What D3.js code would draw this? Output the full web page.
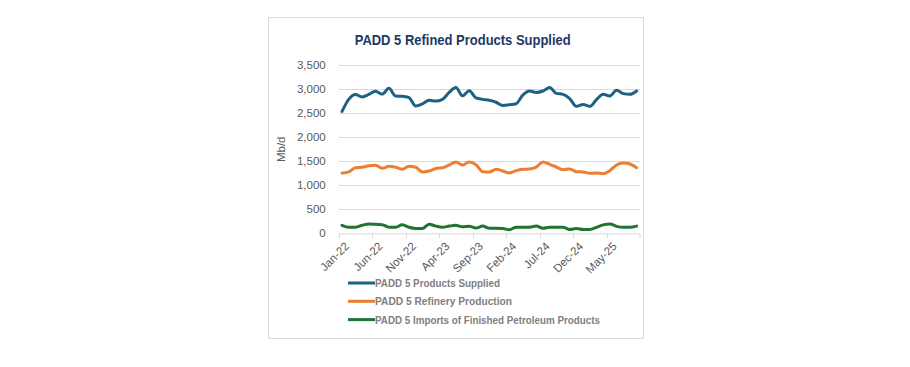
<!DOCTYPE html>
<html>
<head>
<meta charset="utf-8">
<script src="https://cdn.jsdelivr.net/npm/d3@7"></script>
<style>
  body { margin: 0; background: #fff; }
  text { font-family: "Liberation Sans", Arial, sans-serif; }
</style>
</head>
<body>
<script>
var months = ['Jan','Feb','Mar','Apr','May','Jun','Jul','Aug','Sep','Oct','Nov','Dec'];
var categories = [];
for (var yr = 22; yr <= 25; yr++) {
  months.forEach(function(m, k){ if (yr < 25 || k < 9) categories.push(m + '-' + yr); });
}

var supplied = [2540,2790,2890,2840,2895,2960,2900,3020,2860,2855,2825,2650,2695,2770,2755,2790,2935,3035,2865,2970,2820,2790,2770,2730,2665,2680,2700,2880,2965,2935,2965,3035,2915,2895,2805,2645,2685,2645,2785,2895,2860,2980,2910,2895,2965];
var refinery = [1255,1280,1367,1375,1408,1417,1354,1396,1375,1333,1396,1375,1277,1298,1350,1367,1423,1485,1423,1485,1430,1283,1277,1333,1298,1256,1305,1333,1340,1380,1485,1437,1381,1326,1340,1283,1277,1250,1256,1242,1305,1423,1465,1444,1367];
var imports = [166,125,127,166,195,186,180,127,127,180,125,100,100,190,150,127,150,166,135,145,110,150,105,105,100,75,125,125,127,150,105,127,127,127,80,100,80,80,125,175,195,145,125,125,150];

var yTicks = [0,500,1000,1500,2000,2500,3000,3500];
var series = [
  {name: 'PADD 5 Products Supplied', values: supplied, color: '#1b6283'},
  {name: 'PADD 5 Refinery Production', values: refinery, color: '#ed7d31'},
  {name: 'PADD 5 Imports of Finished Petroleum Products', values: imports, color: '#1e7430'}
];

var svg = d3.select('body').append('svg').attr('width', 910).attr('height', 367);

// chart frame
svg.append('rect')
  .attr('x', 268.5).attr('y', 17.5).attr('width', 375).attr('height', 321)
  .attr('fill', '#fff').attr('stroke', '#d9d9d9');

var plotL = 338.7, plotR = 640, plotT = 65.3, plotB = 233.3;

var x = d3.scaleBand().domain(categories).range([plotL, plotR]);
var y = d3.scaleLinear().domain([0, 3500]).range([plotB, plotT]);

// title
svg.append('text')
  .attr('x', 462.7).attr('y', 45)
  .attr('text-anchor', 'middle')
  .attr('font-size', 15).attr('font-weight', 'bold')
  .attr('fill', '#1f3864')
  .attr('textLength', 216).attr('lengthAdjust', 'spacingAndGlyphs')
  .text('PADD 5 Refined Products Supplied');

// gridlines
svg.append('g').selectAll('line')
  .data(yTicks.slice(1))
  .enter().append('line')
  .attr('x1', plotL).attr('x2', plotR)
  .attr('y1', function(d){ return Math.round(y(d)) + 0.5; })
  .attr('y2', function(d){ return Math.round(y(d)) + 0.5; })
  .attr('stroke', '#d9d9d9').attr('stroke-width', 1);

// y axis labels
var yAxis = svg.append('g')
  .attr('transform', 'translate(' + (plotL - 10) + ',0)')
  .call(d3.axisLeft(y).tickValues(yTicks).tickSize(0).tickFormat(d3.format(',')));
yAxis.select('.domain').remove();
yAxis.selectAll('text')
  .attr('font-size', 11.5).attr('fill', '#595959')
  .attr('font-family', '"Liberation Sans", Arial, sans-serif');

svg.append('text')
  .attr('transform', 'translate(285,' + ((plotT + plotB) / 2) + ') rotate(-90)')
  .attr('text-anchor', 'middle')
  .attr('font-size', 11.5).attr('fill', '#595959')
  .text('Mb/d');

// x axis line and ticks at category boundaries
svg.append('line')
  .attr('x1', plotL).attr('x2', plotR)
  .attr('y1', plotB + 0.5).attr('y2', plotB + 0.5)
  .attr('stroke', '#d9d9d9');

var labelCats = categories.filter(function(d, i){ return i % 5 === 0; });
svg.append('g').selectAll('line')
  .data(labelCats.concat(['end']))
  .enter().append('line')
  .attr('x1', function(d){ return d === 'end' ? plotR : Math.round(x(d)) + 0.5; })
  .attr('x2', function(d){ return d === 'end' ? plotR : Math.round(x(d)) + 0.5; })
  .attr('y1', plotB).attr('y2', plotB + 5)
  .attr('stroke', '#d9d9d9');

svg.append('g').selectAll('text')
  .data(labelCats)
  .enter().append('text')
  .attr('transform', function(d){
    return 'translate(' + (x(d) + x.bandwidth() / 2 + 2) + ',' + (plotB + 8) + ') rotate(-45)';
  })
  .attr('text-anchor', 'end')
  .attr('dy', '0.7em')
  .attr('font-size', 11.5).attr('fill', '#595959')
  .text(function(d){ return d; });

// lines
var line = d3.line()
  .x(function(d, i){ return x(categories[i]) + x.bandwidth() / 2; })
  .y(function(d){ return y(d); })
  .curve(d3.curveMonotoneX);

svg.append('g').selectAll('path')
  .data(series)
  .enter().append('path')
  .attr('d', function(s){ return line(s.values); })
  .attr('fill', 'none')
  .attr('stroke', function(s){ return s.color; })
  .attr('stroke-width', 3)
  .attr('stroke-linejoin', 'round')
  .attr('stroke-linecap', 'round');

// legend
var legendW = [125, 137, 225];
var legend = svg.append('g').selectAll('g')
  .data(series)
  .enter().append('g')
  .attr('transform', function(d, i){ return 'translate(348,' + (287 + i * 18.3) + ')'; });

legend.append('line')
  .attr('x1', 0).attr('x2', 27).attr('y1', -4).attr('y2', -4)
  .attr('stroke', function(d){ return d.color; })
  .attr('stroke-width', 3);

legend.append('text')
  .attr('x', 27).attr('y', 0)
  .attr('font-size', 11.5).attr('font-weight', 'bold')
  .attr('fill', '#808080')
  .attr('textLength', function(d, i){ return legendW[i]; })
  .attr('lengthAdjust', 'spacingAndGlyphs')
  .text(function(d){ return d.name; });
</script>
</body>
</html>
